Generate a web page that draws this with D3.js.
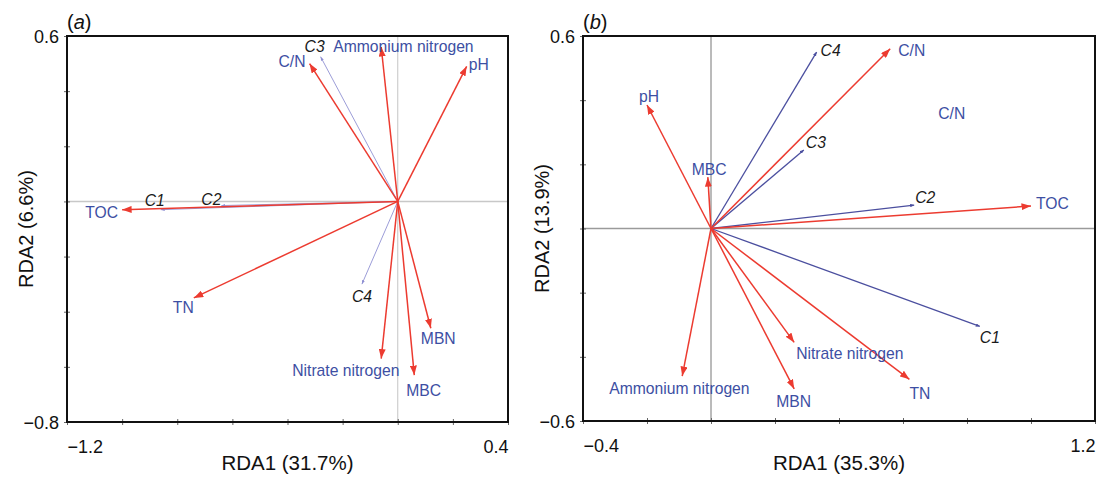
<!DOCTYPE html>
<html>
<head>
<meta charset="utf-8">
<script src="https://cdn.jsdelivr.net/npm/d3@7"></script>
<style>
 body { margin:0; background:#fff; }
 svg { display:block; font-family:"Liberation Sans", Arial, Helvetica, sans-serif; }
</style>
</head>
<body>
<div id="chart"></div>
<script>
/* Panel (a) - environmental variables (red arrows) */
var envA_names = ["TOC", "C/N", "Ammonium nitrogen", "pH", "TN", "MBN", "Nitrate nitrogen", "MBC"];
var envA_x     = [-1.00, -0.32, -0.06, 0.25, -0.74, 0.12, -0.06, 0.06];
var envA_y     = [-0.03,  0.50,  0.56, 0.49, -0.35, -0.46, -0.57, -0.63];
/* Panel (a) - species (blue lines) */
var spA_names = ["C1", "C2", "C3", "C4"];
var spA_x     = [-0.86, -0.64, -0.28, -0.13];
var spA_y     = [-0.03, -0.015, 0.525, -0.30];

/* Panel (b) */
var envB_names = ["C/N", "pH", "MBC", "TOC", "Nitrate nitrogen", "TN", "MBN", "Ammonium nitrogen"];
var envB_x     = [0.56, -0.20, -0.01, 1.00,  0.26,  0.62,  0.26, -0.09];
var envB_y     = [0.56,  0.385, 0.16, 0.07, -0.355, -0.47, -0.50, -0.46];
var spB_names = ["C1", "C2", "C3", "C4"];
var spB_x     = [0.84, 0.635, 0.29, 0.33];
var spB_y     = [-0.305, 0.073, 0.245, 0.55];
/* a lone label in (b) with no arrow */
var extraB_names = ["C/N"];
var extraB_x = [0.71];
var extraB_y = [0.34];

/* axis settings */
var xDomainA = [-1.2, 0.4], yDomainA = [-0.8, 0.6];
var xDomainB = [-0.4, 1.2], yDomainB = [-0.6, 0.6];
var titleA = "a", titleB = "b";
var xLabelA = "RDA1 (31.7%)", yLabelA = "RDA2 (6.6%)";
var xLabelB = "RDA1 (35.3%)", yLabelB = "RDA2 (13.9%)";

/* label offsets (pixels from arrow tip): [dx, dy, anchor] */
var envA_lab = [[-4,8,"end"],[-4,3,"end"],[-48,5,"start"],[2,4,"start"],[0,15,"end"],[-10,16,"start"],[-89,17,"start"],[-8,21,"start"]];
var spA_lab  = [[-16,-4],[-20,-1],[-16,-5],[-10,18]];
var envB_lab = [[8,7,"start"],[-8,-3,"start"],[-16,-2,"start"],[5,3,"start"],[2,17,"start"],[0,20,"start"],[-18,18,"start"],[-73,18,"start"]];
var spB_lab  = [[0,17],[1,-2],[2,-2],[4,4]];

var RED = "#ec3b30", LABEL_BLUE = "#3d4fa3";

var svg = d3.select("#chart").append("svg")
  .attr("width", 1096)
  .attr("height", 477);

/* arrow head markers */
var defs = svg.append("defs");
function add_marker(id, color, len, wid)
{
	defs.append("marker")
	  .attr("id", id)
	  .attr("markerUnits", "userSpaceOnUse")
	  .attr("viewBox", "0 0 " + len + " " + wid)
	  .attr("refX", len)
	  .attr("refY", wid/2)
	  .attr("markerWidth", len)
	  .attr("markerHeight", wid)
	  .attr("orient", "auto")
	.append("path")
	  .attr("d", "M0,0L" + len + "," + (wid/2) + "L0," + wid + "Z")
	  .attr("fill", color);
}
add_marker("head_red", RED, 9.5, 7);
add_marker("head_blueA", "#8e8fd2", 4, 3);
add_marker("head_blueB", "#4b4f9f", 4, 3.5);

/* Draws one ordination panel.
   p.box = [left, top, right, bottom] of the frame in pixels */
function draw_panel(p)
{
	var x = d3.scaleLinear().domain(p.xDomain).range([p.box[0], p.box[2]]);
	var y = d3.scaleLinear().domain(p.yDomain).range([p.box[3], p.box[1]]);
	var g = svg.append("g");

	/* zero lines */
	g.append("line")
	  .attr("x1", x(0)).attr("x2", x(0))
	  .attr("y1", p.box[1]).attr("y2", p.box[3])
	  .attr("stroke", p.zeroV).attr("stroke-width", 1);
	g.append("line")
	  .attr("x1", p.box[0]).attr("x2", p.box[2])
	  .attr("y1", y(0)).attr("y2", y(0))
	  .attr("stroke", p.zeroH).attr("stroke-width", 1.5);

	/* axes: ticks every 0.2, labels only at the ends */
	var fmt = d3.format(".1f");
	var xt = d3.range(0, 9).map(function(i) { return p.xDomain[0] + i*0.2; });
	var yt = d3.range(0, Math.round((p.yDomain[1]-p.yDomain[0])/0.2)+1).map(function(i) { return p.yDomain[0] + i*0.2; });

	var xa = g.append("g")
	  .attr("transform", "translate(0," + p.box[3] + ")")
	  .call(d3.axisBottom(x).tickValues(xt).tickSize(3).tickPadding(15)
	    .tickFormat(function(d, i) { return (i == 0 || i == xt.length-1) ? fmt(d) : ""; }));
	xa.select(".domain").remove();
	xa.selectAll(".tick line").attr("y1", -3).attr("stroke", "#666");
	xa.selectAll(".tick text")
	  .attr("font-size", 18).attr("font-family", null).attr("fill", "#111")
	  .attr("text-anchor", function(d, i) { return i == 0 ? "start" : "end"; });

	var ya = g.append("g")
	  .attr("transform", "translate(" + p.box[0] + ",0)")
	  .call(d3.axisLeft(y).tickValues(yt).tickSize(3).tickPadding(5)
	    .tickFormat(function(d, i) { return (i == 0 || i == yt.length-1) ? fmt(d) : ""; }));
	ya.select(".domain").remove();
	ya.selectAll(".tick line").attr("x1", 3).attr("stroke", "#666");
	ya.selectAll(".tick text")
	  .attr("font-size", 18).attr("font-family", null).attr("fill", "#111")
	  .attr("dy", "0.38em");

	/* frame */
	g.append("rect")
	  .attr("x", p.box[0]).attr("y", p.box[1])
	  .attr("width", p.box[2]-p.box[0]).attr("height", p.box[3]-p.box[1])
	  .attr("fill", "none").attr("stroke", "#111").attr("stroke-width", 2);

	var ox = x(0), oy = y(0);

	/* species lines */
	g.selectAll(".sp")
	    .data(p.spNames)
	  .enter().append("line")
	    .attr("x1", ox).attr("y1", oy)
	    .attr("x2", function(d, i) { return x(p.spX[i]); })
	    .attr("y2", function(d, i) { return y(p.spY[i]); })
	    .attr("stroke", p.spColor)
	    .attr("stroke-width", p.spWidth)
	    .attr("marker-end", "url(#" + p.spMarker + ")");

	/* environmental arrows */
	g.selectAll(".env")
	    .data(p.envNames)
	  .enter().append("line")
	    .attr("x1", ox).attr("y1", oy)
	    .attr("x2", function(d, i) { return x(p.envX[i]); })
	    .attr("y2", function(d, i) { return y(p.envY[i]); })
	    .attr("stroke", RED)
	    .attr("stroke-width", 1.5)
	    .attr("marker-end", "url(#head_red)");

	/* labels */
	g.selectAll(".envlab")
	    .data(p.envNames)
	  .enter().append("text")
	    .attr("x", function(d, i) { return x(p.envX[i]) + p.envLab[i][0]; })
	    .attr("y", function(d, i) { return y(p.envY[i]) + p.envLab[i][1]; })
	    .attr("text-anchor", function(d, i) { return p.envLab[i][2]; })
	    .attr("font-size", 15.7)
	    .attr("fill", LABEL_BLUE)
	    .text(function(d) { return d; });

	g.selectAll(".splab")
	    .data(p.spNames)
	  .enter().append("text")
	    .attr("x", function(d, i) { return x(p.spX[i]) + p.spLab[i][0]; })
	    .attr("y", function(d, i) { return y(p.spY[i]) + p.spLab[i][1]; })
	    .attr("font-size", 15.7)
	    .attr("font-style", "italic")
	    .attr("fill", "#1a1a1a")
	    .text(function(d) { return d; });

	if (p.extraNames) {
		g.selectAll(".extralab")
		    .data(p.extraNames)
		  .enter().append("text")
		    .attr("x", function(d, i) { return x(p.extraX[i]); })
		    .attr("y", function(d, i) { return y(p.extraY[i]); })
		    .attr("font-size", 15.7)
		    .attr("fill", LABEL_BLUE)
		    .text(function(d) { return d; });
	}

	/* panel letter */
	var t = g.append("text")
	  .attr("x", p.box[0]).attr("y", p.box[1] - 7)
	  .attr("font-size", 20).attr("fill", "#111");
	t.append("tspan").text("(");
	t.append("tspan").attr("font-style", "italic").text(p.title);
	t.append("tspan").text(")");

	/* axis titles */
	g.append("text")
	  .attr("x", (p.box[0]+p.box[2])/2).attr("y", 470)
	  .attr("text-anchor", "middle")
	  .attr("font-size", 20.5).attr("fill", "#111")
	  .text(p.xLabel);
	g.append("text")
	  .attr("transform", "translate(" + p.yLabelX + "," + ((p.box[1]+p.box[3])/2) + ") rotate(-90)")
	  .attr("text-anchor", "middle")
	  .attr("font-size", 20).attr("fill", "#111")
	  .text(p.yLabel);
}

draw_panel({
	box: [67, 36, 508, 422],
	xDomain: xDomainA, yDomain: yDomainA,
	envNames: envA_names, envX: envA_x, envY: envA_y, envLab: envA_lab,
	spNames: spA_names, spX: spA_x, spY: spA_y, spLab: spA_lab,
	spColor: "#9c9dd8", spWidth: 1, spMarker: "head_blueA",
	zeroV: "#c4c4c4", zeroH: "#c8c8c8",
	title: titleA, xLabel: xLabelA, yLabel: yLabelA, yLabelX: 33
});

draw_panel({
	box: [583, 36, 1095, 421],
	xDomain: xDomainB, yDomain: yDomainB,
	envNames: envB_names, envX: envB_x, envY: envB_y, envLab: envB_lab,
	spNames: spB_names, spX: spB_x, spY: spB_y, spLab: spB_lab,
	extraNames: extraB_names, extraX: extraB_x, extraY: extraB_y,
	spColor: "#4b4f9f", spWidth: 1.3, spMarker: "head_blueB",
	zeroV: "#777", zeroH: "#9a9a9a",
	title: titleB, xLabel: xLabelB, yLabel: yLabelB, yLabelX: 549
});
</script>
</body>
</html>
